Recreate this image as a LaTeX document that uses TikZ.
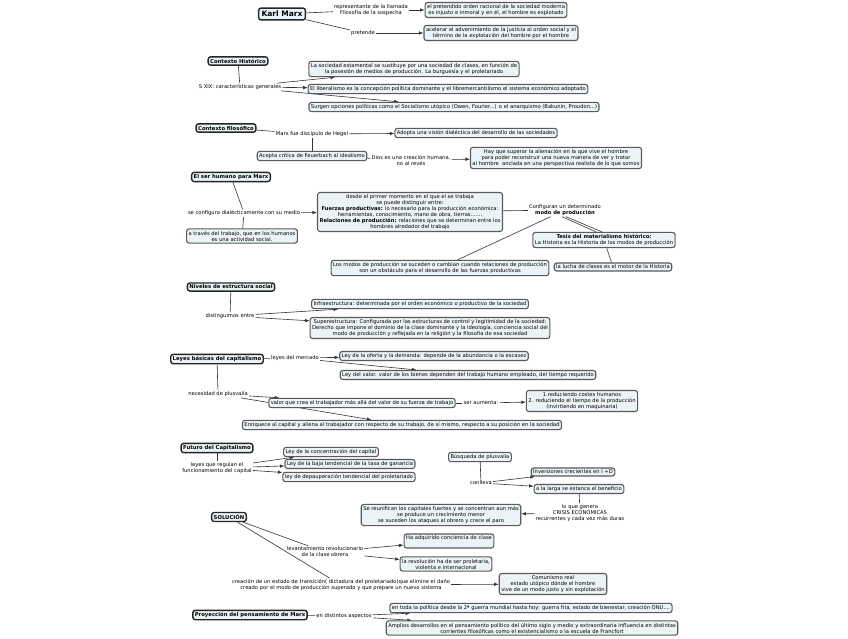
\documentclass[tikz,border=0pt]{standalone}
\usepackage{fontspec}
\setmainfont{DejaVu Sans}
\usetikzlibrary{arrows.meta,positioning}
\pgfdeclarelayer{bg}
\pgfsetlayers{bg,main}
\definecolor{cfill}{RGB}{236,243,246}
\definecolor{cline}{RGB}{90,90,90}
\tikzset{
  concept/.style={draw=cline,line width=1.1pt,rounded corners=2.5pt,fill=cfill,
    align=center,inner sep=2pt,font=\fontsize{5.2}{6}\selectfont},
  title/.style={concept,draw=black!85,line width=1.4pt,font=\fontsize{5.3}{6.2}\selectfont\bfseries},
  phrase/.style={align=center,inner sep=1pt,font=\fontsize{5.2}{6}\selectfont},
  link/.style={draw=black!80,line width=0.6pt},
  arr/.style={link,-{Latex[length=4.5pt,width=3.5pt]}},
}

\begin{document}
\begin{tikzpicture}[x=1pt,y=-1pt]
  \useasboundingbox (0,0) rectangle (848,638);
  % Karl Marx
  \node[title,font=\fontsize{7.5}{8}\selectfont\bfseries,inner sep=3pt] (kmarx) at (282,14) {Karl Marx};
  \node[phrase] (lrepr) at (371,10) {representante de la llamada\\Filosofía de la sospecha};
  \node[concept] (borden) at (496,10) {el pretendido orden racional de la sociedad moderna\\es injusto e inmoral y en él, el hombre es explotado};
  \node[phrase] (lpret) at (363,33) {pretende};
  \node[concept] (bacel) at (501,33) {acelerar el advenimiento de la justicia al orden social y el\\término de la explotación del hombre por el hombre};
  % Contexto historico
  \node[title] (thist) at (238,61) {Contexto Histórico};
  \node[phrase] (lsxix) at (240,87) {S XIX: características generales};
  \node[concept] (bestam) at (414,69) {La sociedad estamental se sustituye por una sociedad de clases, en función de\\la posesión de medios de producción. La burguesía y el proletariado};
  \node[concept] (bliber) at (448,89) {El liberalismo es la concepción política dominante y el libremercantilismo el sistema económico adoptado};
  \node[concept] (bsurg) at (454,107) {Surgen opciones políticas como el Socialismo utópico (Owen, Fourier...) o el anarquismo (Bakunin, Proudon...)};
  % Contexto filosofico
  \node[title] (tfilo) at (226,128) {Contexto filosófico};
  \node[phrase] (lhegel) at (312,134) {Marx fue discípulo de Hegel};
  \node[concept] (bdialec) at (476,133) {Adopta una visión dialéctica del desarrollo de las sociedades};
  \node[concept] (bfeuer) at (312,156) {Acepta crítica de Feuerbach al idealismo};
  \node[phrase] (ldios) at (411,160) {Dios es una creación humana,\\no al revés};
  \node[concept] (balien) at (556,158) {Hay que superar la alienación en la que vive el hombre\\para poder reconstruir una nueva manera de ver y tratar\\al hombre\ \ anclada en una perspectiva realista de lo que somos};
  % Ser humano
  \node[title] (tser) at (231,177) {El ser humano para Marx};
  \node[phrase] (lmedio) at (244,213) {se configura dialécticamente con su medio};
  \node[concept] (bfuerz) at (410,212) {desde el primer momento en el que el se trabaja\\se puede distinguir entre:\\\textbf{Fuerzas productivas:} lo necesario para la producción económica:\\herramientas, conocimiento, mano de obra, tierras.......\\\textbf{Relaciones de producción:} relaciones que se determinan entre los\\hombres alrededor del trabajo};
  \node[concept] (btrab) at (242,236) {a través del trabajo, que en los humanos\\es una actividad social.};
  \node[phrase] (lmodo) at (565,210) {Configuran un determinado\\\textbf{modo de producción}};
  \node[concept] (btesis) at (604,240) {\textbf{Tesis del materialismo histórico:}\\La Historia es la Historia de los modos de producción};
  \node[concept] (bsuced) at (440,268) {Los modos de producción se suceden o cambian cuando relaciones de producción\\son un obstáculo para el desarrollo de las fuerzas productivas};
  \node[concept] (blucha) at (613,267) {la lucha de clases es el motor de la Historia};
  % Niveles
  \node[title] (tnivel) at (231,287) {Niveles de estructura social};
  \node[phrase] (ldist) at (230,316) {distinguimos entre};
  \node[concept] (binfra) at (420,304) {Infraestructura: determinada por el orden económico o productivo de la sociedad};
  \node[concept] (bsuper) at (430,328) {Superestructura: Configurada por las estructuras de control y legitimidad de la sociedad:\\Derecho que impone el dominio de la clase dominante y la ideología, conciencia social del\\modo de producción y reflejada en la religión y la filosofía de esa sociedad};
  % Leyes basicas
  \node[title] (tleyes) at (217,359) {Leyes básicas del capitalismo};
  \node[phrase] (lmerc) at (295,358) {leyes del mercado};
  \node[concept] (boferta) at (434,356) {Ley de la oferta y la demanda: depende de la abundancia o la escasez};
  \node[concept] (bvalor) at (468,375) {Ley del valor. valor de los bienes dependen del trabajo humano empleado, del tiempo requerido};
  \node[phrase] (lplusv) at (218,394) {necesidad de plusvalía};
  \node[concept] (bcrea) at (362,403) {valor que crea el trabajador más allá del valor de su fuerza de trabajo};
  \node[phrase] (laument) at (481,403) {ser aumenta:};
  \node[concept] (breduc) at (582,401) {1.reduciendo costes humanos\\2. reduciendo el tiempo de la producción\\(invirtiendo en maquinaria)};
  \node[concept] (benriq) at (402,425) {Enriquece al capital y aliena al trabajador con respecto de su trabajo, de sí mismo, respecto a su posición en la sociedad};
  % Futuro
  \node[title] (tfutur) at (217,448) {Futuro del Capitalismo};
  \node[phrase] (lregul) at (217,468) {leyes que regulan el\\funcionamiento del capital};
  \node[concept] (bconc) at (331,452) {Ley de la concentración del capital};
  \node[concept] (bbaja) at (350,464) {Ley de la baja tendencial de la tasa de ganancia};
  \node[concept] (bdepau) at (349,477) {ley de depauperación tendencial del proletariado};
  % Busqueda de plusvalia
  \node[concept] (bbusq) at (480,457) {Búsqueda de plusvalía};
  \node[phrase] (lconll) at (481,483) {conlleva};
  \node[concept] (binver) at (573,472) {Inversiones crecientes en I +D};
  \node[concept] (bestan) at (579,489) {a la larga se estanca el beneficio};
  \node[phrase] (lcrisis) at (580,513) {lo que genera\\CRISIS ECONÓMICAS\\recurrentes y cada vez más duras};
  \node[concept] (breunif) at (441,515) {Se reunifican los capitales fuertes y se concentran aun más\\se produce un crecimiento menor\\se suceden los ataques al obrero y crece el paro};
  % Solucion
  \node[title] (tsol) at (229,517) {SOLUCIÓN};
  \node[phrase] (llevant) at (325,552) {levantamiento revolucionario\\de la clase obrera};
  \node[concept] (bclase) at (449,541) {Ha adquirido conciencia de clase\\~};
  \node[concept] (brevol) at (446,564) {la revolución ha de ser proletaria,\\violenta e internacional};
  \node[phrase] (ltrans) at (341,585) {creación de un estado de transición( dictadura del proletariado)que elimine el daño\\creado por el modo de producción superado y que prepare un nuevo sistema};
  \node[concept] (bcomun) at (553,584) {Comunismo real\\estado utópico dónde el hombre\\vive de un modo justo y sin explotación};
  % Proyeccion
  \node[title] (tproy) at (250,615) {Proyección del pensamiento de Marx};
  \node[phrase] (laspec) at (344,616) {en distintos aspectos};
  \node[concept] (bpolit) at (531,608) {en toda la política desde la 2ª guerra mundial hasta hoy: guerra fría, estado de bienestar, creación ONU....};
  \node[concept] (bampl) at (532,628) {Amplios desarrollos en el pensamiento político del último siglo y medio y extraordinaria influencia en distintas\\corrientes filosóficas como el existencialismo o la escuela de Francfort};

  \begin{pgfonlayer}{bg}
    \draw[link] (kmarx) -- (lrepr);
    \draw[arr] (lrepr) -- (borden);
    \draw[link] (kmarx) -- (lpret);
    \draw[arr] (lpret) -- (bacel);
    \draw[link] (thist) -- (lsxix);
    \foreach \t in {bestam,bliber,bsurg}
      \draw[arr] (lsxix) -- (\t);
    \draw[link] (tfilo) -- (lhegel);
    \draw[arr] (lhegel) -- (bdialec);
    \draw[link] (lhegel) -- (bfeuer);
    \draw[link] (bfeuer) -- (ldios);
    \draw[arr] (ldios) -- (balien);
    \draw[link] (tser) -- (lmedio);
    \draw[arr] (lmedio) -- (bfuerz);
    \draw[link] (lmedio) -- (btrab);
    \draw[link] (bfuerz) -- (lmodo);
    \draw[link] ([xshift=-3pt]lmodo.south) -- ([xshift=-8pt]btesis.north);
    \draw[link] ([xshift=1pt]lmodo.south) -- ([xshift=-2pt]btesis.north);
    \draw[link] (lmodo) -- (bsuced);
    \draw[link] (btesis) -- (blucha);
    \draw[link] (tnivel) -- (ldist);
    \draw[arr] (ldist) -- (binfra);
    \draw[arr] (ldist) -- (bsuper);
    \draw[link] (tleyes) -- (lmerc);
    \draw[arr] (lmerc) -- (boferta);
    \draw[arr] (lmerc) -- (bvalor);
    \draw[link] (tleyes) -- (lplusv);
    \draw[arr] (lplusv) -- (bcrea);
    \draw[arr] (lplusv) -- (benriq);
    \draw[link] (bcrea) -- (laument);
    \draw[arr] (laument) -- (breduc);
    \draw[link] (tfutur) -- (lregul);
    \foreach \t in {bconc,bbaja,bdepau}
      \draw[arr] (lregul) -- (\t);
    \draw[link] (bbusq) -- (lconll);
    \draw[arr] (lconll) -- (binver);
    \draw[arr] (lconll) -- (bestan);
    \draw[link] (bestan) -- (lcrisis);
    \draw[arr] (lcrisis) -- (breunif);
    \draw[link] (tsol) -- (llevant);
    \draw[link] (tsol) -- (ltrans);
    \draw[arr] (llevant) -- (bclase);
    \draw[arr] (llevant) -- (brevol);
    \draw[arr] (ltrans) -- (bcomun);
    \draw[link] (tproy) -- (laspec);
    \draw[arr] (laspec) -- (bpolit);
    \draw[arr] (laspec) -- (bampl);
  \end{pgfonlayer}
\end{tikzpicture}
\end{document}
